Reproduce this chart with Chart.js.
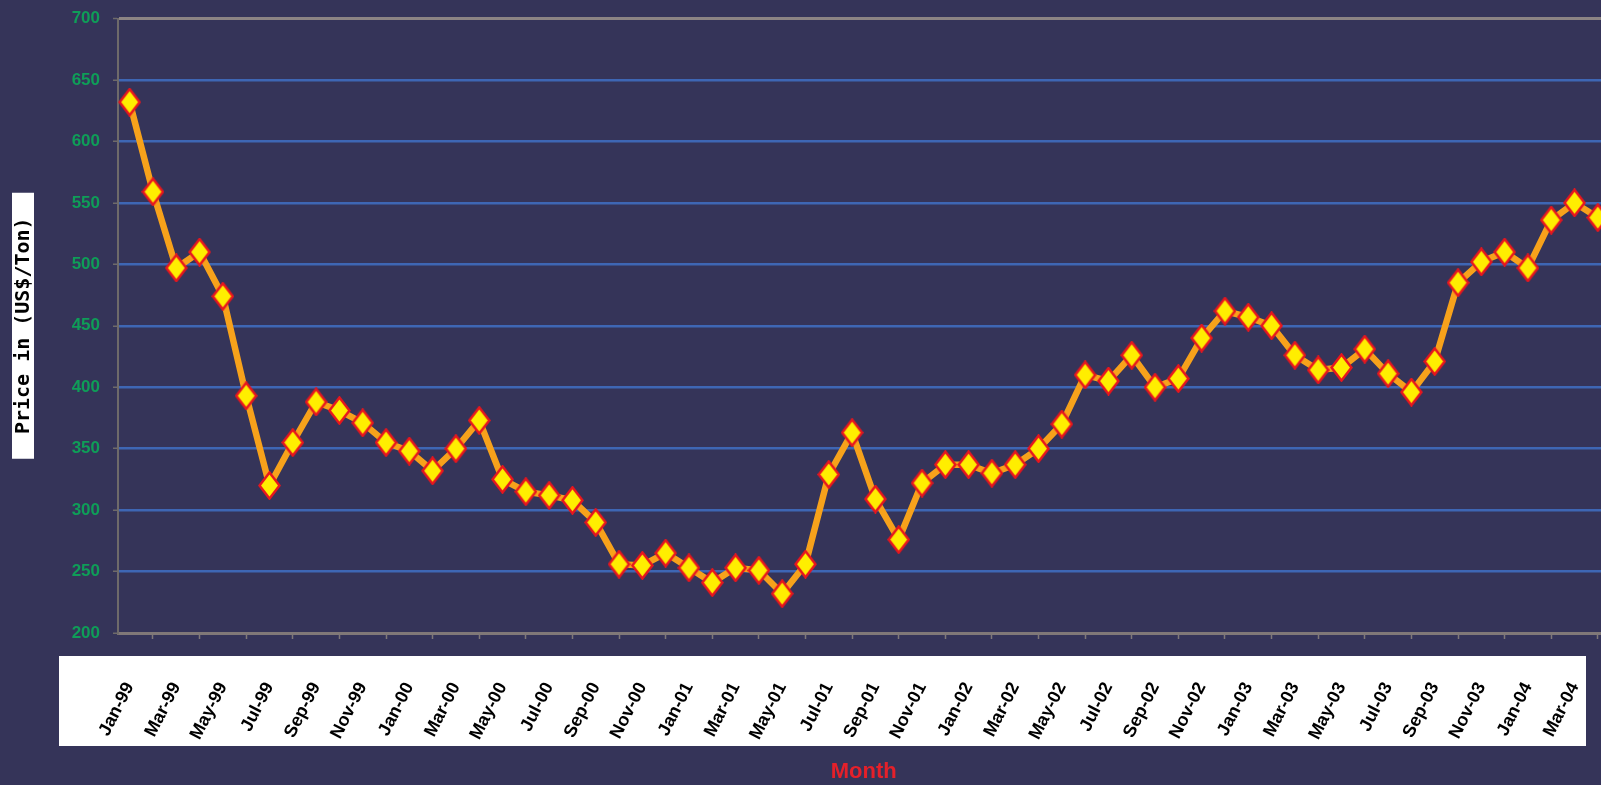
<!DOCTYPE html>
<html>
<head>
<meta charset="utf-8">
<script src="https://cdn.jsdelivr.net/npm/chart.js@4"></script>
<style>
  html, body { margin: 0; padding: 0; background: #353459; overflow: hidden; }
  #wrap { width: 1628px; height: 785px; }
</style>
</head>
<body>
<div id="wrap"><canvas id="priceChart" width="1628" height="785"></canvas></div>
<script>
// Prix mensuels (US$/Ton), Jan-99 -> Apr-04

const months = [
  'Jan-99','Feb-99','Mar-99','Apr-99','May-99','Jun-99','Jul-99','Aug-99','Sep-99','Oct-99','Nov-99','Dec-99',
  'Jan-00','Feb-00','Mar-00','Apr-00','May-00','Jun-00','Jul-00','Aug-00','Sep-00','Oct-00','Nov-00','Dec-00',
  'Jan-01','Feb-01','Mar-01','Apr-01','May-01','Jun-01','Jul-01','Aug-01','Sep-01','Oct-01','Nov-01','Dec-01',
  'Jan-02','Feb-02','Mar-02','Apr-02','May-02','Jun-02','Jul-02','Aug-02','Sep-02','Oct-02','Nov-02','Dec-02',
  'Jan-03','Feb-03','Mar-03','Apr-03','May-03','Jun-03','Jul-03','Aug-03','Sep-03','Oct-03','Nov-03','Dec-03',
  'Jan-04','Feb-04','Mar-04','Apr-04'
];

const prices = [
  632, 559, 497, 510, 474, 393, 320, 355, 388, 381, 371, 355,
  348, 332, 350, 373, 325, 315, 312, 308, 290, 256, 255, 265,
  253, 241, 253, 251, 232, 256, 329, 363, 309, 276, 322, 337,
  337, 330, 337, 350, 370, 410, 405, 426, 400, 407, 440, 462,
  457, 450, 426, 414, 416, 431, 411, 396, 421, 485, 502, 510,
  497, 536, 550, 538
];

const yMin = 200;
const yMax = 700;
const yStep = 50;

// losange jaune bordé de rouge (un peu plus haut que large)
function makeDiamond() {
  const c = document.createElement('canvas');
  c.width = 23;
  c.height = 29;
  const g = c.getContext('2d');
  g.beginPath();
  g.moveTo(11.5, 1.5);
  g.lineTo(21.5, 14.5);
  g.lineTo(11.5, 27.5);
  g.lineTo(1.5, 14.5);
  g.closePath();
  g.fillStyle = '#ffee00';
  g.fill();
  g.lineWidth = 2.5;
  g.strokeStyle = '#e8161e';
  g.stroke();
  return c;
}

// fonds blancs derrière les titres / étiquettes
const whiteBoxes = {
  id: 'whiteBoxes',
  beforeDraw(chart) {
    const ctx = chart.ctx;
    const area = chart.chartArea;
    const midY = (area.top + area.bottom) / 2;
    ctx.save();
    ctx.fillStyle = '#ffffff';
    ctx.fillRect(12, midY - 133, 22, 266);
    ctx.fillRect(59, area.bottom + 23, 1527, 90);
    ctx.restore();
  }
};

const ctx = document.getElementById('priceChart').getContext('2d');

const priceChart = new Chart(ctx, {
  type: 'line',
  data: {
    labels: months,
    datasets: [{
      label: 'Price',
      data: prices,
      borderColor: '#f7a21b',
      borderWidth: 6.5,
      tension: 0,
      pointStyle: makeDiamond(),
      pointRadius: 12,
      pointHoverRadius: 12
    }]
  },
  options: {
    responsive: false,
    animation: false,
    layout: { padding: { top: 18, left: 0, right: 0, bottom: 0 } },
    plugins: {
      legend: { display: false },
      tooltip: { enabled: false }
    },
    scales: {
      x: {
        type: 'category',
        offset: true,
        afterFit(scale) {
          scale.height = 152;
          scale.paddingRight = 0;
        },
        border: { color: '#807878', width: 3 },
        grid: {
          offset: true,
          drawOnChartArea: false,
          drawTicks: true,
          tickLength: 6,
          tickColor: '#807878',
          tickWidth: 1.5
        },
        ticks: {
          autoSkip: false,
          minRotation: 63,
          maxRotation: 63,
          padding: 40,
          color: '#000000',
          font: { family: 'Liberation Sans, Arial, sans-serif', size: 18, weight: 'bold' },
          callback(value, index) {
            return index % 2 === 0 ? this.getLabelForValue(value) : null;
          }
        },
        title: {
          display: true,
          text: 'Month',
          color: '#e4202a',
          padding: { top: 0, bottom: 0 },
          font: { family: 'Liberation Sans Narrow, Liberation Sans, Arial, sans-serif', size: 22, weight: 'bold' }
        }
      },
      y: {
        min: yMin,
        max: yMax,
        afterFit(scale) {
          scale.width = 118;
          scale.paddingTop = 0;
        },
        border: { color: '#6e6a6a', width: 2 },
        grid: {
          color(c) {
            if (c.tick.value === yMax) return '#8c8484';
            if (c.tick.value === yMin) return 'rgba(0,0,0,0)';
            return '#3e66b4';
          },
          lineWidth(c) { return c.tick.value === yMax ? 3 : 2.5; },
          tickColor: '#6e6a6a',
          tickLength: 5,
          tickWidth: 1.5
        },
        ticks: {
          stepSize: yStep,
          padding: 13,
          color: '#0f9d58',
          font: { family: 'Liberation Sans Narrow, Liberation Sans, Arial, sans-serif', size: 17, weight: 'bold' }
        },
        title: {
          display: true,
          text: 'Price in (US$/Ton)',
          color: '#000000',
          padding: { top: 12, bottom: 0 },
          font: { family: 'DejaVu Sans Mono, monospace', size: 20, weight: 'bold' }
        }
      }
    }
  },
  plugins: [whiteBoxes]
});
</script>
</body>
</html>
